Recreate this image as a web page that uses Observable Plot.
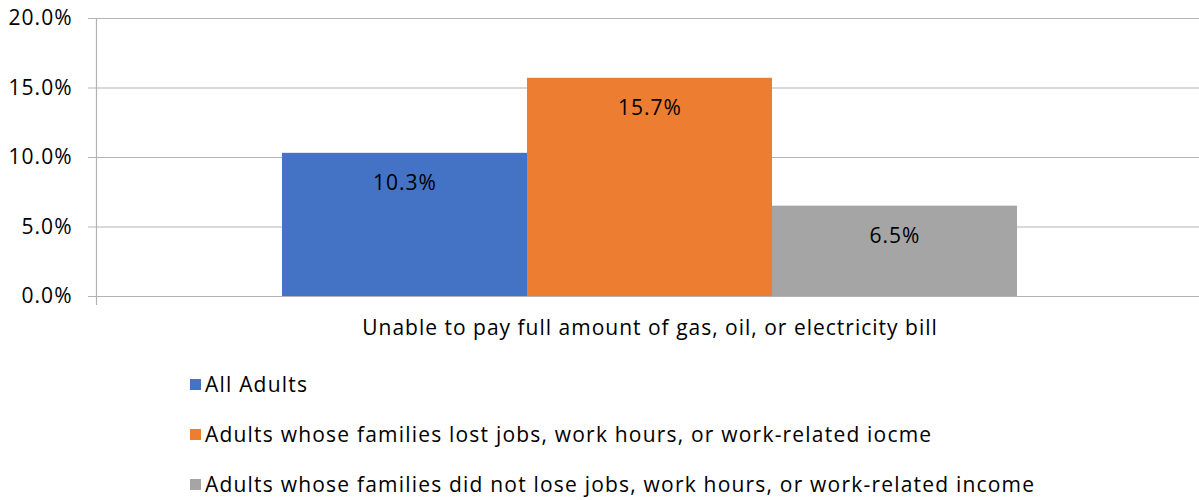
<!DOCTYPE html>
<html>
<head>
<meta charset="utf-8">
<script src="https://cdn.jsdelivr.net/npm/d3@7"></script>
<script src="https://cdn.jsdelivr.net/npm/@observablehq/plot@0.6"></script>
<style>
  html, body { margin: 0; padding: 0; background: #fff; }
  body { width: 1199px; height: 500px; overflow: hidden; font-family: "Open Sans", sans-serif; }
  #legend { margin-left: 190px; margin-top: 9px; }
  .item { height: 50px; display: flex; align-items: center; font-size: 21px; letter-spacing: 1.2px; color: #000; }
  .sw { width: 11px; height: 11px; margin-right: 4px; flex: none; }
</style>
</head>
<body>
<div id="chart"></div>
<div id="legend"></div>
<script>
const category = "Unable to pay full amount of gas, oil, or electricity bill";
const series = [
  "All Adults",
  "Adults whose families lost jobs, work hours, or work-related iocme",
  "Adults whose families did not lose jobs, work hours, or work-related income"
];
const values = [0.103, 0.157, 0.065];
const colors = ["#4472C4", "#ED7D31", "#A5A5A5"];
const yTicks = [0, 0.05, 0.10, 0.15, 0.20];

const data = series.map((s, i) => ({category, series: s, value: values[i]}));

const chart = Plot.plot({
  width: 1199,
  height: 350,
  marginLeft: 96,
  marginRight: -4,
  marginTop: 18,
  marginBottom: 54,
  style: {fontFamily: "'Open Sans', sans-serif", fontSize: "21px", letterSpacing: "1px", color: "#000", background: "#fff", overflow: "hidden"},
  fx: {domain: [category], padding: 0, label: null},
  x: {domain: series, paddingInner: 0, paddingOuter: 0.753, axis: null},
  y: {domain: [0, 0.2], ticks: yTicks, tickFormat: d3.format(".1%"), label: null, grid: false},
  color: {domain: series, range: colors},
  marks: [
    Plot.ruleY(yTicks, {y: d => d, stroke: "#b3b3b3", strokeWidth: 1.2}),
    Plot.axisY({ticks: yTicks, tickFormat: d3.format(".1%"), tickSize: 8, tickPadding: 16, stroke: "#b3b3b3", fill: "#000", fontSize: 21, label: null}),
    Plot.axisFx({anchor: "bottom", tickSize: 0, tickPadding: 24, fontSize: 21, fill: "#000", label: null}),
    Plot.barY(data, {fx: "category", x: "series", y: "value", fill: "series"}),
    Plot.frame({anchor: "left", stroke: "#b3b3b3", strokeWidth: 1.2, insetBottom: -8}),
    Plot.text(data, {fx: "category", x: "series", y: "value", text: d => d3.format(".1%")(d.value), dy: 30, fontSize: 21, fill: "#000", lineAnchor: "middle"})
  ]
});
document.getElementById("chart").appendChild(chart);

const legend = document.getElementById("legend");
series.forEach((s, i) => {
  const item = document.createElement("div");
  item.className = "item";
  const sw = document.createElement("span");
  sw.className = "sw";
  sw.style.background = colors[i];
  const t = document.createElement("span");
  t.textContent = s;
  item.appendChild(sw);
  item.appendChild(t);
  legend.appendChild(item);
});
</script>
</body>
</html>
